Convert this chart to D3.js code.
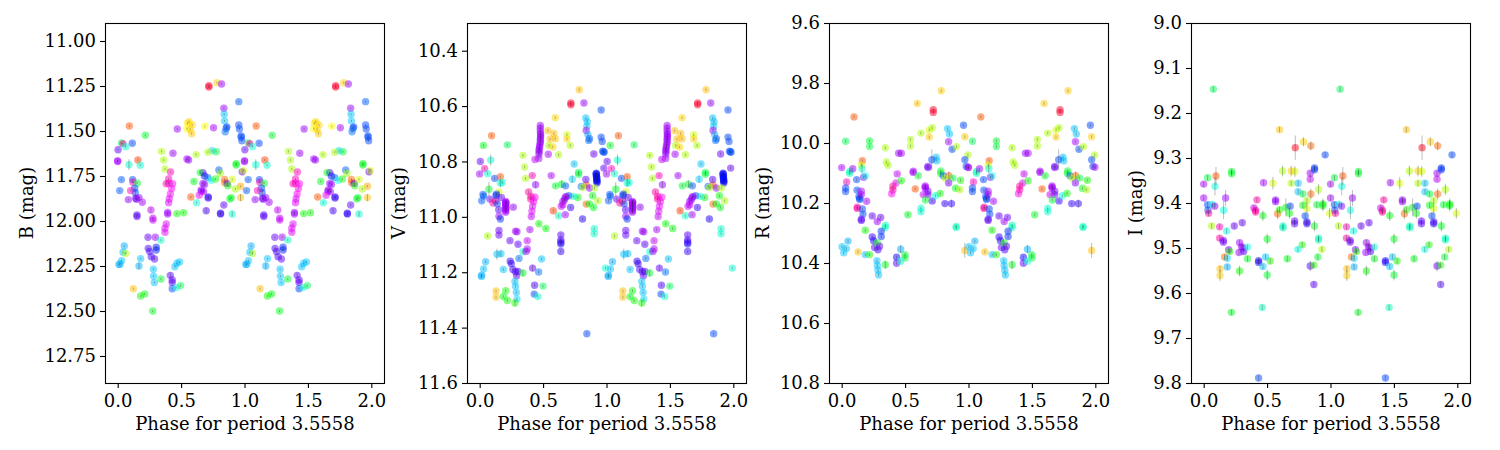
<!DOCTYPE html>
<html>
<head>
<meta charset="utf-8">
<script src="https://cdn.jsdelivr.net/npm/d3@7"></script>
<style>
body { margin: 0; background: #fff; }
text { font-family: "DejaVu Serif", serif; fill: #000; }
</style>
</head>
<body>
<script>
// rows are [phase, magnitude, hue, error]; error left out means typical error of the band
const bandB = [
  [.092,11.472,20],[.218,11.524,130],[.03,11.567,130],[.042,11.57,320],[.115,11.568,225],[.063,11.587,170],
  [.003,11.604,265],[0,11.665,290],[0,11.67,295],[.089,11.687,170,.03],[.16,11.661,15],[.178,11.69,170],
  [.029,11.77,220],[.016,11.831,220],[.118,11.77,225],[.121,11.785,320],[.155,11.79,130],[.134,11.818,225],
  [.139,11.843,225,.018],[.102,11.831,320],[.084,11.881,290],[.142,11.874,280],[.148,11.879,275],[.168,11.87,285],
  [.194,11.896,295],[.152,11.967,260],[.152,11.975,265],[.262,11.939,300,.015],[.278,11.985,300],[.278,11.995,300],
  [.394,11.953,295],[.394,11.961,290],[.467,11.959,115],[.52,11.954,115],[.383,12.017,305],[.373,12.04,305],
  [.373,12.063,305],[.239,12.09,270],[.297,12.09,290],[.341,12.106,165],[.052,12.139,200],[.042,12.174,195],
  [.063,12.18,70],[.031,12.22,195],[.01,12.241,200],[.018,12.24,200],[.181,12.209,195],[.168,12.25,200,.018],
  [.241,12.152,260],[.252,12.17,260],[.265,12.198,260],[.291,12.211,265],[.304,12.146,235],[.304,12.161,235],
  [.281,12.268,195],[.283,12.306,195],[.289,12.342,195],[.341,12.322,130],[.415,12.302,265,.015],[.43,12.328,265],
  [.43,12.341,265],[.43,12.376,225],[.462,12.37,175],[.496,12.359,140],[.451,12.254,195],[.467,12.235,195],
  [.488,12.228,195],[.123,12.376,45],[.181,12.417,115],[.213,12.405,120],[.276,12.5,125],
  [.346,11.613,70],[.362,11.661,70],[.373,11.711,70],[.436,11.624,290],[.417,11.728,320],[.402,11.767,320],
  [.383,11.793,320],[.402,11.79,320],[.433,11.793,310],[.425,11.82,310],[.415,11.85,310],[.407,11.876,305],
  [.402,11.898,305],[.47,11.489,290],[.551,11.457,55],[.562,11.448,50],[.546,11.487,60],[.588,11.467,50],
  [.572,11.491,50],[.583,11.515,48],[.688,11.474,60],[.756,11.482,295],[.719,11.248,350],[.719,11.256,350],
  [.782,11.232,50],[.819,11.239,290],[.955,11.337,220],[.837,11.374,290],[.84,11.407,195],[.843,11.444,195],
  [.861,11.477,225],[.856,11.485,225],[.848,11.504,215],[.955,11.467,225],[.96,11.489,225],[.974,11.527,225],
  [.974,11.535,225],[.979,11.554,225],[.982,11.726,270,.015],[.992,11.72,65],[.934,11.681,125],[.934,11.689,125],
  [.745,11.609,190],[.711,11.618,70],[.777,11.615,135],[.619,11.631,70],[.546,11.655,295],[.559,11.661,285],
  [.672,11.731,270],[.651,11.731,125],[.685,11.75,240],[.711,11.759,220],[.738,11.774,180],[.798,11.717,220],
  [.808,11.735,75],[.772,11.767,110],[.601,11.78,125],[.843,11.769,25],[.845,11.787,25],[.864,11.791,270],
  [.869,11.804,110],[.903,11.769,65],[.969,11.807,40],[.929,11.822,70],[.672,11.791,290],[.685,11.797,285],
  [.659,11.828,290],[.659,11.834,295],[.677,11.837,285],[.643,11.857,305],[.714,11.866,255],[.714,11.872,255],
  [.577,11.867,20],[.622,11.898,170],[.895,11.87,125],[.885,11.878,130],[.837,11.911,265],[.969,11.87,45,.02],
  [.698,11.943,260,.015],[.811,11.957,255],[.811,11.961,255],[.903,11.961,170,.014]
];
const bandV = [
  [.094,10.707,20],[.029,10.742,125],[.218,10.74,140],[.005,10.8,270],[.087,10.795,170,.02],[.039,10.826,320],
  [0,10.845,295],[.063,10.844,170],[.118,10.861,225],[.163,10.855,20],[.163,10.878,170,.015],[.178,10.876,170],
  [.073,10.9,130,.025],[.152,10.91,65],[.026,10.919,220],[.031,10.925,220],[.016,10.942,220],[.081,10.936,270],
  [.105,10.95,325],[.126,10.942,330],[.131,10.918,230],[.131,10.924,230],[.139,10.953,225],[.171,10.93,270],
  [.15,10.974,265],[.152,10.998,290],[.163,11.008,230],[.205,10.944,290],[.205,10.954,290],[.205,10.963,290],
  [.205,10.973,290],[.205,10.983,290],[.207,10.95,285],[.207,10.968,285],[.205,10.948,295],[.205,10.958,295],
  [.205,10.978,295],[.265,10.965,285],[.063,11.069,70],
  [.152,11.049,270],[.152,11.066,270],[.283,11.052,295],[.294,11.054,290],[.239,11.086,270],[.302,11.099,265],
  [.136,11.135,195,.02],[.168,11.133,195,.012],[.047,11.162,200],[.031,11.188,195],[.016,11.211,200],[.013,11.215,200],
  [.186,11.19,195],[.241,11.16,255],[.249,11.169,255],[.262,11.19,260],[.283,11.198,260],[.302,11.197,260],
  [.291,11.213,270],[.31,11.15,215],[.341,11.203,130,.012],[.341,11.126,170],[.375,11.086,300],[.375,11.116,295],
  [.367,11.125,295],[.278,11.233,195],[.283,11.251,195],[.289,11.273,195],[.294,11.297,190],[.278,11.311,110,.012],
  [.129,11.268,45],[.129,11.29,45],[.205,11.267,115],[.186,11.288,125],[.218,11.302,115],[.341,10.778,70],
  [.354,10.82,70],[.362,10.861,70],[.415,10.851,320],[.441,10.884,285,.012],[.386,10.91,325],[.404,10.926,325],
  [.402,10.936,325],[.436,10.929,310],[.425,10.945,310],[.417,10.962,305],[.412,10.98,305],[.407,10.999,300],
  [.467,11.025,115],[.522,11.042,120],[.396,11.046,295],[.417,11.185,270,.012],[.465,11.199,215],[.488,11.152,195],
  [.433,11.247,260],[.499,11.25,140],[.43,11.279,225],[.459,11.288,170],[.478,10.67,290],[.478,10.691,290],
  [.48,10.712,290],[.478,10.728,290],[.472,10.743,290],[.467,10.758,285],[.467,10.773,285],[.48,10.7,285],
  [.478,10.72,285],[.472,10.75,290],[.478,10.68,295],[.48,10.706,295],[.478,10.735,295],[.47,10.765,290],
  [.467,10.789,290],[.436,10.793,300],[.541,10.774,295],[.622,10.776,70],
  [.546,10.742,70],[.538,10.689,45],[.585,10.699,45],[.556,10.719,45],[.596,10.718,45],[.577,10.748,50],
  [.596,10.642,50],[.688,10.703,65],[.688,10.719,50],[.714,10.742,70],[.719,10.589,350],[.719,10.595,350],
  [.785,10.541,45],[.822,10.589,290],[.958,10.614,225],[.837,10.643,195],[.848,10.657,195],[.845,10.673,195],
  [.84,10.688,295],[.853,10.703,200],[.866,10.718,220],[.86,10.724,215],[.958,10.712,225],[.966,10.728,225],
  [.97,10.763,225],[.976,10.765,220],[.982,10.767,225],[.9,10.773,270],[.745,10.809,195],[.78,10.84,135],
  [.78,10.846,135],[.73,10.864,190,.013],[.564,10.851,295],[.598,10.888,130],[.646,10.882,130,.014],[.677,10.888,220],
  [.801,10.89,215],[.84,10.885,25],[.814,10.894,70],[.866,10.896,285],[.837,10.865,265],[.919,10.842,245],
  [.919,10.848,245],[.921,10.854,245],[.923,10.86,245],[.923,10.866,245],[.925,10.872,245],[.925,10.878,245],
  [.92,10.845,240],[.922,10.857,240],[.924,10.869,240],
  [.906,10.896,70],[.979,10.824,270],[.89,10.924,120],[.932,10.942,70],[.84,10.954,25],[.866,10.953,125],
  [.898,10.966,125],[.774,10.93,120],[.74,10.926,170],[.703,10.924,220],[.682,10.926,290],[.669,10.938,285],
  [.656,10.944,290],[.656,10.956,300],[.643,10.962,300],[.675,10.93,290],[.717,10.966,255],[.622,10.996,165],
  [.675,10.992,295],[.58,10.978,15],[.811,11.008,250],[.903,11.043,170],[.903,11.061,170],[.64,11.065,265],
  [.64,11.083,260],[.64,11.098,250],[.64,11.092,255],[.64,11.125,255],[.845,11.422,225],[.992,11.185,170]
];
const bandR = [
  [.097,9.913,20],[.031,9.994,140],[.22,9.993,130],[.22,10.012,135],[.344,10.016,70],[0,10.082,295],
  [.063,10.095,160],[.063,10.101,165],[.087,10.086,290],[.163,10.059,20],[.155,10.074,65],[.16,10.086,170,.015],
  [.173,10.114,285],[.186,10.11,175],[.118,10.122,225],[.039,10.13,320],[.031,10.15,225],[.031,10.162,225],
  [.121,10.157,225],[.136,10.178,220],[.142,10.184,225],[.142,10.188,225],[.155,10.161,295],[.155,10.172,295],
  [.197,10.194,295],[.123,10.214,325],[.123,10.218,325],[.163,10.22,225],[.168,10.237,225],[.155,10.254,265],
  [.155,10.258,265],[.241,10.243,270],[.307,10.248,270],[.281,10.262,295],[.344,10.274,165],[.344,10.282,165],
  [.186,10.291,115],[.312,10.294,230],[.312,10.312,230],[.241,10.313,255],[.252,10.326,250],[.26,10.348,265],
  [.281,10.333,120],[.286,10.356,260],[.299,10.344,270],[.05,10.327,200],[.003,10.346,195],[.037,10.352,195],
  [.016,10.366,195],[.129,10.363,45],[.186,10.372,195],[.22,10.372,110],[.278,10.392,195],[.281,10.408,195],
  [.286,10.424,195],[.291,10.44,195],[.344,10.406,125,.014],[.433,10.381,245],[.433,10.401,265],[.465,10.354,200,.014],
  [.499,10.372,130],[.499,10.383,130],[.465,10.394,170],[.352,10.063,70],[.365,10.074,70],[.438,10.103,300],
  [.428,10.133,305],[.404,10.144,325],[.404,10.156,325],[.394,10.169,310],[.47,10.126,115],[.449,10.034,290],
  [.47,10.034,295],[.543,9.988,70],[.543,10.01,70],[.596,9.868,48],[.625,9.967,70],[.785,9.826,48],
  [.722,9.889,350],[.722,9.898,350],[.69,9.957,65],[.714,9.949,70],[.69,9.98,48],[.835,9.952,195],
  [.85,9.97,195],[.961,9.941,225],[.971,9.979,48],[.843,9.996,295],[.871,10.021,225],[.906,10.012,70],
  [.995,10.04,70],[.745,10.047,195],[.751,10.059,195],[.711,10.056,225,.035],[.971,10.056,225],[.982,10.078,225],
  [.997,10.081,295],[.68,10.078,270],[.68,10.082,275],[.564,10.094,295],[.564,10.098,295],[.604,10.109,130],
  [.782,10.093,130],[.78,10.102,125],[.801,10.109,220],[.845,10.109,25,.014],[.816,10.117,70],[.877,10.117,135],
  [.843,10.133,280],[.937,10.124,115],[.58,10.153,20],[.659,10.143,295],[.659,10.147,295],[.659,10.151,295],
  [.68,10.161,280],[.68,10.172,270],[.643,10.172,300],[.661,10.19,130],[.714,10.193,255],[.74,10.176,175],
  [.777,10.168,115],[.898,10.151,125],[.932,10.156,70],[.814,10.202,255],[.866,10.202,255,.014],[.625,10.217,170],
  [.625,10.229,170],[.522,10.239,125],[.903,10.278,165],[.903,10.282,165],[.971,10.358,45,.025]
];
const bandI = [
  [.076,9.147,140],[.598,9.237,45],[.722,9.277,355,.027],[.787,9.264,48,.01],[.845,9.273,25,.01],[.958,9.293,225],
  [.097,9.34,20,.02],[.031,9.344,135],[.22,9.33,130],[.22,9.335,130],[0,9.358,295],[.089,9.363,175,.02],
  [0,9.389,295],[.173,9.389,290,.018],[.031,9.404,225],[.034,9.416,225],[.068,9.403,175],[.087,9.407,285],
  [.039,9.423,325],[.157,9.416,175,.02],[.063,9.451,70],[.126,9.453,320],[.241,9.451,270],[.304,9.444,270],
  [.181,9.462,175],[.126,9.478,325],[.155,9.483,275],[.155,9.487,275],[.197,9.504,280],[.205,9.508,110],
  [.165,9.52,25],[.186,9.523,190],[.186,9.542,200],[.129,9.546,45],[.129,9.561,48,.012],[.218,9.643,125],
  [.283,9.488,290],[.299,9.497,290],[.278,9.51,295],[.315,9.508,260],[.31,9.5,285],[.346,9.498,175],
  [.346,9.524,125],[.283,9.551,115,.012],[.433,9.528,250],[.433,9.532,250],[.488,9.52,195],[.467,9.541,195],
  [.525,9.529,110],[.501,9.48,125,.012],[.501,9.56,130,.012],[.462,9.632,165],[.433,9.789,225],[.472,9.355,295],
  [.467,9.428,120,.012],[.42,9.393,325],[.396,9.411,300],[.409,9.416,325],[.409,9.42,325],[.546,9.356,65,.014],
  [.567,9.393,285],[.567,9.397,285],[.583,9.424,25,.012],[.598,9.415,110],[.622,9.329,70,.012],[.69,9.329,48,.012],
  [.719,9.33,65,.012],[.69,9.356,70],[.745,9.356,195],[.648,9.41,125,.02],[.677,9.423,120,.012],[.682,9.407,225],
  [.625,9.451,165],[.625,9.455,165],[.717,9.44,265],[.717,9.446,265],[.814,9.442,255],[.814,9.446,255],
  [.8,9.429,225],[.745,9.375,195],[.782,9.38,135],[.845,9.38,25,.012],[.814,9.395,70],[.814,9.412,65,.012],
  [.782,9.405,120],[.84,9.334,295],[.84,9.347,300],[.874,9.322,230],[.874,9.326,230],[.906,9.37,70,.012],
  [.892,9.404,130],[.94,9.402,120,.012],[.94,9.406,120,.012],[.874,9.451,125,.012],[.906,9.478,165],[.906,9.482,165],
  [.777,9.493,110],[.743,9.503,175],[.932,9.503,70],[.9,9.52,130],[.659,9.524,125],[.84,9.54,270,.012],
  [.869,9.538,110],[.869,9.581,265],[.992,9.423,65,.012]
];

const xLabel = 'Phase for period 3.5558';
const xTicks = [0, 0.5, 1, 1.5, 2];
const bTicks = [11, 11.25, 11.5, 11.75, 12, 12.25, 12.5, 12.75];
const vTicks = [10.4, 10.6, 10.8, 11, 11.2, 11.4, 11.6];
const rTicks = [9.6, 9.8, 10, 10.2, 10.4, 10.6, 10.8];
const iTicks = [9, 9.1, 9.2, 9.3, 9.4, 9.5, 9.6, 9.7, 9.8];

const panels = [
  { rows: bandB, name: 'B (mag)', y: [10.9, 12.9], ticks: bTicks, fmt: '.2f', err: .006, left: 105, labelX: 27 },
  { rows: bandV, name: 'V (mag)', y: [10.3, 11.6], ticks: vTicks, fmt: '.1f', err: .005, left: 467, labelX: 399 },
  { rows: bandR, name: 'R (mag)', y: [9.6, 10.8], ticks: rTicks, fmt: '.1f', err: .005, left: 829, labelX: 763 },
  { rows: bandI, name: 'I (mag)', y: [9, 9.8], ticks: iTicks, fmt: '.1f', err: .006, left: 1191, labelX: 1136 }
];

const width = 1500, height = 450, top_ = 23, bottom = 383, panelW = 279, fontPx = '18px';
const svg = d3.select('body').append('svg').attr('width', width).attr('height', height).style('display', 'block');
// my hue readings run off at the yellow-greens and purples, pull them back
const hueScale = d3.scaleLinear().domain([0, 60, 70, 130, 265, 295, 325, 360]).range([0, 60, 80, 130, 262, 280, 322, 360]);
const color = h => d3.hsl(hueScale(h), 1, .5).formatHex();

panels.forEach(p => {
  const x = d3.scaleLinear().domain([-0.1, 2.1]).range([p.left, p.left + panelW]);
  const y = d3.scaleLinear().domain(p.y).range([top_, bottom]);
  const g = svg.append('g');

  // every point is plotted twice, over two cycles
  const rows = p.rows.concat(p.rows.map(d => [d[0] + 1, d[1], d[2], d[3]]));

  g.selectAll('circle').data(rows).enter().append('circle')
    .attr('cx', d => x(d[0]))
    .attr('cy', d => y(d[1]))
    .attr('r', 3.7)
    .attr('fill', d => color(d[2]))
    .attr('fill-opacity', .5);
  g.selectAll('line.err').data(rows).enter().append('line')
    .attr('class', 'err')
    .attr('x1', d => x(d[0])).attr('x2', d => x(d[0]))
    .attr('y1', d => y(d[1] - (d[3] || p.err)))
    .attr('y2', d => y(d[1] + (d[3] || p.err)))
    .attr('stroke', '#222').attr('stroke-opacity', .3).attr('stroke-width', 1);

  const xAxis = d3.axisBottom(x).tickValues(xTicks).tickFormat(d3.format('.1f')).tickSize(5).tickSizeOuter(0);
  const yAxis = d3.axisLeft(y).tickValues(p.ticks).tickFormat(d3.format(p.fmt)).tickSize(5).tickSizeOuter(0);
  const gx = g.append('g').attr('transform', `translate(0,${bottom})`).call(xAxis);
  const gy = g.append('g').attr('transform', `translate(${p.left},0)`).call(yAxis);
  [gx, gy].forEach(a => {
    a.selectAll('text').style('font-family', '"DejaVu Serif", serif').style('font-size', fontPx);
    a.select('.domain').remove();
    a.selectAll('line').attr('stroke-width', 1.1);
  });
  gx.selectAll('text').attr('y', 24).attr('dy', 0);
  gy.selectAll('text').attr('x', -9);

  g.append('rect').attr('x', p.left + .5).attr('y', top_ + .5).attr('width', panelW).attr('height', bottom - top_)
    .attr('fill', 'none').attr('stroke', '#000').attr('stroke-width', 1.1);

  g.append('text').attr('x', p.left + panelW / 2 + .5).attr('y', 430).attr('text-anchor', 'middle')
    .style('font-size', fontPx).text(xLabel);
  g.append('text').attr('transform', `translate(${p.labelX + 6},${(top_ + bottom) / 2}) rotate(-90)`)
    .attr('text-anchor', 'middle').style('font-size', fontPx).text(p.name);
});
</script>
</body>
</html>
